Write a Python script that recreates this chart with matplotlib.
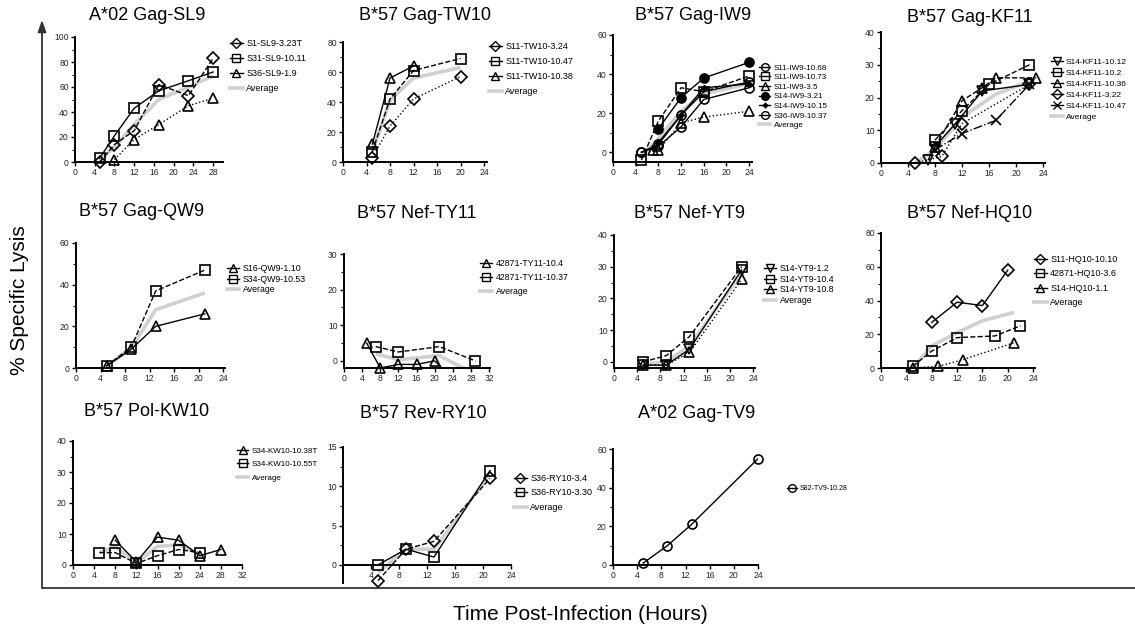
import numpy as np
import matplotlib.pyplot as plt
from matplotlib.lines import Line2D
from matplotlib.ticker import MultipleLocator

plt.rcParams['font.family'] = ['Liberation Sans', 'DejaVu Sans']

W, H = 1135, 633

# ---------------- data: hours post-infection vs % specific lysis ----------------
# A*02 Gag-SL9
sl9_labels = ['S1-SL9-3.23T', 'S31-SL9-10.11', 'S36-SL9-1.9']
sl9_x = [[5, 8, 12, 17, 23, 28], [5, 8, 12, 17, 23, 28], [8, 12, 17, 23, 28]]
sl9_y = [[0, 14, 25, 62, 53, 83], [3, 21, 43, 57, 65, 72], [2, 18, 30, 45, 51]]
sl9_avg_x = [5, 8, 12, 17, 23, 28]
sl9_avg_y = [1, 12, 30, 50, 60, 69]

# B*57 Gag-TW10
tw10_labels = ['S11-TW10-3.24', 'S11-TW10-10.47', 'S11-TW10-10.38']
tw10_x = [[5, 8, 12, 20], [5, 8, 12, 20], [5, 8, 12]]
tw10_y = [[3, 24, 42, 57], [7, 42, 61, 69], [12, 56, 64]]
tw10_avg_x = [5, 8, 12, 20]
tw10_avg_y = [7, 41, 56, 63]

# B*57 Gag-IW9
iw9_labels = ['S11-IW9-10.68', 'S11-IW9-10.73', 'S11-IW9-3.5',
              'S14-IW9-3.21', 'S14-IW9-10.15', 'S36-IW9-10.37']
iw9_x = [[5, 8, 12, 16, 24], [5, 8, 12, 16, 24], [7, 8, 12, 16, 24],
         [8, 12, 16, 24], [7, 8, 12, 16, 24], [5, 8, 12, 16, 24]]
iw9_y = [[0, 3, 13, 27, 33], [-4, 16, 33, 31, 39], [1, 1, 15, 18, 21],
         [12, 28, 38, 46], [2, 5, 19, 33, 35], [0, 4, 19, 31, 36]]
iw9_avg_x = [5, 8, 12, 16, 24]
iw9_avg_y = [-2, 7, 21, 30, 35]

# B*57 Gag-KF11
kf11_labels = ['S14-KF11-10.12', 'S14-KF11-10.2', 'S14-KF11-10.36',
               'S14-KF11-3.22', 'S14-KF11-10.47']
kf11_x = [[7, 8, 11, 15, 22], [8, 12, 16, 22], [8, 12, 15, 17, 23],
          [5, 9, 12, 22], [8, 12, 17, 22]]
kf11_y = [[1, 5, 12, 22, 24], [7, 16, 24, 30], [5, 19, 23, 26, 26],
          [0, 2, 12, 24], [4, 9, 13, 24]]
kf11_avg_x = [5, 8, 12, 17, 22]
kf11_avg_y = [0, 4, 14, 21, 25]

# B*57 Gag-QW9
qw9_labels = ['S16-QW9-1.10', 'S34-QW9-10.53']
qw9_x = [[5, 9, 13, 21], [5, 9, 13, 21]]
qw9_y = [[1, 9, 20, 26], [1, 10, 37, 47]]
qw9_avg_x = [5, 9, 13, 21]
qw9_avg_y = [1, 9.5, 28, 36]

# B*57 Nef-TY11
ty11_labels = ['42871-TY11-10.4', '42871-TY11-10.37']
ty11_x = [[5, 8, 12, 16, 20, 24], [7, 12, 21, 29]]
ty11_y = [[5, -2, -1, -1, 0, -5], [4, 2.5, 4, 0]]
ty11_avg_x = [7, 12, 21, 27]
ty11_avg_y = [2, 0.3, 1.5, -2.5]

# B*57 Nef-YT9
yt9_labels = ['S14-YT9-1.2', 'S14-YT9-10.4', 'S14-YT9-10.8']
yt9_x = [[5, 9, 13, 22], [5, 9, 13, 22], [5, 9, 13, 22]]
yt9_y = [[-1, -1, 4, 29], [0, 2, 8, 30], [-1, -1, 3, 26]]
yt9_avg_x = [5, 9, 13, 22]
yt9_avg_y = [-0.7, 0, 5, 28]

# B*57 Nef-HQ10
hq10_labels = ['S11-HQ10-10.10', '42871-HQ10-3.6', 'S14-HQ10-1.1']
hq10_x = [[8, 12, 16, 20], [5, 8, 12, 18, 22], [5, 9, 13, 21]]
hq10_y = [[27, 39, 37, 58], [1, 10, 18, 19, 25], [0, 1, 5, 15]]
hq10_avg_x = [5, 8, 12, 16, 21]
hq10_avg_y = [0, 13, 21, 28, 33]

# B*57 Pol-KW10
kw10_labels = ['S34-KW10-10.38T', 'S34-KW10-10.55T']
kw10_x = [[8, 12, 16, 20, 24, 28], [5, 8, 12, 16, 20, 24]]
kw10_y = [[8, 1, 9, 8, 3, 5], [4, 4, 0.5, 3, 5, 4]]
kw10_avg_x = [5, 8, 12, 16, 20, 24]
kw10_avg_y = [4, 6, 0.7, 6, 6.5, 3.5]

# B*57 Rev-RY10
ry10_labels = ['S36-RY10-3.4', 'S36-RY10-3.30']
ry10_x = [[5, 9, 13, 21], [5, 9, 13, 21]]
ry10_y = [[-2, 2, 3, 11], [0, 2, 1, 12]]
ry10_avg_x = [5, 9, 13, 21]
ry10_avg_y = [-1, 2, 2, 11.5]

# A*02 Gag-TV9
tv9_labels = ['S82-TV9-10.28']
tv9_x = [[5, 9, 13, 24]]
tv9_y = [[1, 10, 21, 55]]

AVG_COLOR = '#d0d0d0'
TICK_COLOR = '#23233a'

# marker, linestyle, filled
panels = [
    dict(title='A*02 Gag-SL9', tpos=(147, 16), box=(75, 37, 223, 162),
         xlim=(0, 30), ylim=(0, 100), xt=range(0, 29, 4), yt=range(0, 101, 20), ymin=10,
         labels=sl9_labels, xs=sl9_x, ys=sl9_y, avg=(sl9_avg_x, sl9_avg_y),
         styles=[('D', '--', False), ('s', '-', False), ('^', ':', False)],
         leg=(230, 39), pitch=15, fs=6.5),
    dict(title='B*57 Gag-TW10', tpos=(425, 16), box=(343, 42, 487, 162),
         xlim=(0, 24.5), ylim=(0, 80), xt=range(0, 25, 4), yt=range(0, 81, 20), ymin=10,
         labels=tw10_labels, xs=tw10_x, ys=tw10_y, avg=(tw10_avg_x, tw10_avg_y),
         styles=[('D', ':', False), ('s', '--', False), ('^', '-', False)],
         leg=(489, 42), pitch=15, fs=6.5),
    dict(title='B*57 Gag-IW9', tpos=(693, 16), box=(613, 35, 752, 162),
         xlim=(0, 24.5), ylim=(-5, 60), xt=range(0, 25, 4), yt=range(0, 61, 20), ymin=10,
         labels=iw9_labels, xs=iw9_x, ys=iw9_y, avg=(iw9_avg_x, iw9_avg_y),
         styles=[('o', '-', False), ('s', '--', False), ('^', ':', False),
                 ('o', '-', True), ((4, 1, 0), '-', True), ('o', '-', False)],
         leg=(759, 64), pitch=10, fs=5.8),
    dict(title='B*57 Gag-KF11', tpos=(970, 18), box=(881, 32, 1045, 163),
         xlim=(0, 24.3), ylim=(0, 40), xt=range(0, 25, 4), yt=range(0, 41, 10), ymin=5,
         labels=kf11_labels, xs=kf11_x, ys=kf11_y, avg=(kf11_avg_x, kf11_avg_y),
         styles=[('v', '-', False), ('s', '--', False), ('^', '--', False),
                 ('D', ':', False), ('x', '-.', False)],
         leg=(1051, 58), pitch=11.6, fs=6),
    dict(title='B*57 Gag-QW9', tpos=(142, 212), box=(76, 243, 225, 368),
         xlim=(0, 24.3), ylim=(0, 60), xt=range(0, 25, 4), yt=range(0, 61, 20), ymin=10,
         labels=qw9_labels, xs=qw9_x, ys=qw9_y, avg=(qw9_avg_x, qw9_avg_y),
         styles=[('^', '-', False), ('s', '--', False)],
         leg=(227, 264), pitch=10.5, fs=6.3),
    dict(title='B*57 Nef-TY11', tpos=(417, 213), box=(344, 254, 490, 368),
         xlim=(0, 32.2), ylim=(-2, 30), xt=range(0, 33, 4), yt=range(0, 31, 10), ymin=5,
         labels=ty11_labels, xs=ty11_x, ys=ty11_y, avg=(ty11_avg_x, ty11_avg_y),
         styles=[('^', '-', False), ('s', '--', False)],
         leg=(480, 259), pitch=14, fs=6.3),
    dict(title='B*57 Nef-YT9', tpos=(690, 213), box=(614, 235, 755, 368),
         xlim=(0, 24.3), ylim=(-1.9, 40), xt=range(0, 25, 4), yt=range(0, 41, 10), ymin=5,
         labels=yt9_labels, xs=yt9_x, ys=yt9_y, avg=(yt9_avg_x, yt9_avg_y),
         styles=[('v', '-', False), ('s', '--', False), ('^', ':', False)],
         leg=(764, 264), pitch=10.5, fs=6.3),
    dict(title='B*57 Nef-HQ10', tpos=(970, 213), box=(881, 233, 1035, 368),
         xlim=(0, 24.3), ylim=(0, 80), xt=range(0, 25, 4), yt=range(0, 81, 20), ymin=10,
         labels=hq10_labels, xs=hq10_x, ys=hq10_y, avg=(hq10_avg_x, hq10_avg_y),
         styles=[('D', '-', False), ('s', '--', False), ('^', ':', False)],
         leg=(1034, 255), pitch=14.5, fs=6.5),
    dict(title='B*57 Pol-KW10', tpos=(147, 412), box=(73, 441, 242, 565),
         xlim=(0, 32), ylim=(0, 40), xt=range(0, 33, 4), yt=range(0, 41, 10), ymin=5,
         labels=kw10_labels, xs=kw10_x, ys=kw10_y, avg=(kw10_avg_x, kw10_avg_y),
         styles=[('^', '-', False), ('s', '--', False)],
         leg=(237, 447), pitch=14, fs=5.8),
    dict(title='B*57 Rev-RY10', tpos=(423, 414), box=(343, 447, 511, 583),
         xlim=(0, 24), ylim=(-2.3, 15), xt=range(4, 25, 4), yt=range(0, 16, 5), ymin=2.5,
         labels=ry10_labels, xs=ry10_x, ys=ry10_y, avg=(ry10_avg_x, ry10_avg_y),
         styles=[('D', '--', False), ('s', '-', False)],
         leg=(514, 474), pitch=14.5, fs=6.5, zero_axis=True),
    dict(title='A*02 Gag-TV9', tpos=(697, 413), box=(613, 449, 758, 565),
         xlim=(0, 24), ylim=(0, 60), xt=range(0, 25, 4), yt=range(0, 61, 20), ymin=10,
         labels=tv9_labels, xs=tv9_x, ys=tv9_y, avg=None,
         styles=[('o', '-', False)],
         leg=(787, 485), pitch=10, fs=5),
]

fig = plt.figure(figsize=(W / 100, H / 100), dpi=100)

# big framing axes with the arrow and the shared labels
bg = fig.add_axes([0, 0, 1, 1], zorder=-1)
bg.set_xlim(0, W)
bg.set_ylim(H, 0)
bg.axis('off')
bg.annotate('', xy=(42, 20), xytext=(42, 588),
            arrowprops=dict(arrowstyle='-|>,head_length=0.7,head_width=0.25',
                            color='#333333', lw=1.3, shrinkA=0, shrinkB=0))
bg.plot([42, W], [588, 588], color='#333333', lw=1.3, solid_capstyle='butt')
bg.text(20, 300, '% Specific Lysis', rotation=90, ha='center', va='center', fontsize=15)
bg.text(580, 614, 'Time Post-Infection (Hours)', ha='center', va='center', fontsize=15)


def add_panel(p):
    l, t, r, b = p['box']
    ax = fig.add_axes([l / W, 1 - b / H, (r - l) / W, (b - t) / H])
    ax.patch.set_alpha(0)
    ax.set_xlim(*p['xlim'])
    ax.set_ylim(*p['ylim'])
    for s in ('top', 'right'):
        ax.spines[s].set_visible(False)
    for s in ('left', 'bottom'):
        ax.spines[s].set_linewidth(1.4)
    if p.get('zero_axis'):
        ax.spines['bottom'].set_position(('data', 0))
    ax.set_xticks(list(p['xt']))
    ax.set_yticks(list(p['yt']))
    ax.yaxis.set_minor_locator(MultipleLocator(p['ymin']))
    ax.tick_params(which='major', length=3, width=1, labelsize=6.2, pad=1.5,
                   labelcolor=TICK_COLOR)
    ax.tick_params(which='minor', length=2, width=0.8)

    ylo = p['ylim'][0]
    handles = []
    if p['avg'] is not None:
        ax.plot(p['avg'][0], p['avg'][1], color=AVG_COLOR, lw=2.6, zorder=2,
                solid_capstyle='butt')
    for x, y, (m, ls, filled) in zip(p['xs'], p['ys'], p['styles']):
        x = np.asarray(x, float)
        y = np.asarray(y, float)
        ax.plot(x, y, color='k', ls=ls, lw=1.0, zorder=3)
        keep = y >= ylo
        ms = 4.5 if m == (4, 1, 0) else 6.5
        ax.plot(x[keep], y[keep], ls='none', marker=m, ms=ms,
                mfc='k' if filled else 'none', mec='k', mew=1.2,
                clip_on=False, zorder=4)
        handles.append(Line2D([], [], color='k', lw=1.0, marker=m, ms=ms * 0.85,
                              mfc='k' if filled else 'none', mec='k', mew=1.0))
    labels = list(p['labels'])
    if p['avg'] is not None:
        handles.append(Line2D([], [], color=AVG_COLOR, lw=2.6))
        labels.append('Average')

    fs_px = p['fs'] * 100 / 72
    lx, ly = p['leg']
    fig.legend(handles, labels, loc='upper left',
               bbox_to_anchor=(lx / W, 1 - ly / H), frameon=False,
               fontsize=p['fs'], handlelength=1.4, handletextpad=0.4,
               labelspacing=p['pitch'] / fs_px - 1.0, borderpad=0,
               borderaxespad=0)

    tx, ty = p['tpos']
    fig.text(tx / W, 1 - ty / H, p['title'], ha='center', va='center', fontsize=13)


for p in panels:
    add_panel(p)

fig.savefig('out.png', dpi=100)
